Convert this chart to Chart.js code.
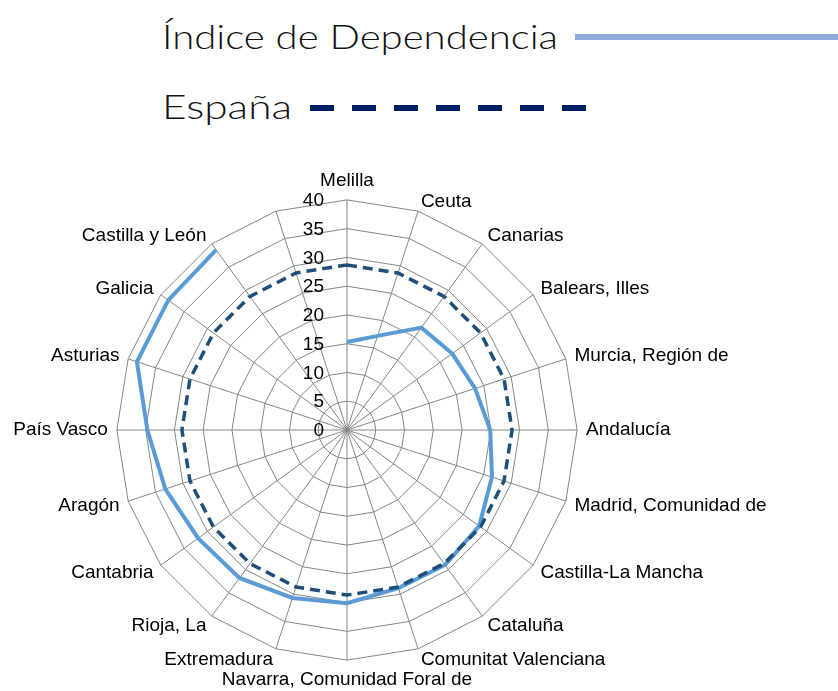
<!DOCTYPE html>
<html>
<head>
<meta charset="utf-8">
<script src="https://cdn.jsdelivr.net/npm/chart.js@4.4.1/dist/chart.umd.min.js"></script>
<style>
  html, body { margin: 0; padding: 0; background: #fff; overflow: hidden; width: 838px; height: 691px; }
  #legend { position: absolute; left: 0; top: 0; }
  #wrap { position: absolute; left: -113px; top: 0; width: 920px; height: 691px; }
</style>
</head>
<body>
<svg id="legend" width="838" height="140">
  <text x="162" y="49" font-family="Lato, 'Open Sans', sans-serif" font-weight="300" font-size="34" fill="#111" textLength="396" lengthAdjust="spacingAndGlyphs">Índice de Dependencia</text>
  <line x1="575" y1="37" x2="838" y2="37" stroke="#8FAADC" stroke-width="6"/>
  <text x="162" y="119" font-family="Lato, 'Open Sans', sans-serif" font-weight="300" font-size="34" fill="#111" textLength="130" lengthAdjust="spacingAndGlyphs">España</text>
  <line x1="310" y1="108" x2="587" y2="108" stroke="#002060" stroke-width="6" stroke-dasharray="24 18"/>
</svg>
<div id="wrap"><canvas id="myChart" width="920" height="691"></canvas></div>
<script>
var regiones = ["Melilla", "Ceuta", "Canarias", "Balears, Illes", "Murcia, Región de", "Andalucía",
    "Madrid, Comunidad de", "Castilla-La Mancha", "Cataluña", "Comunitat Valenciana",
    "Navarra, Comunidad Foral de", "Extremadura", "Rioja, La", "Cantabria", "Aragón",
    "País Vasco", "Asturias", "Galicia", "Castilla y León", ""];
var indiceDependencia = [15.3, 17.2, 22.0, 22.6, 23.4, 24.9, 26.5, 28.4, 29.0, 28.9,
    30.1, 30.7, 31.8, 32.0, 33.2, 34.7, 38.4, 38.4, 38.7, null];
var espana = [28.7, 28.7, 28.7, 28.7, 28.7, 28.7, 28.7, 28.7, 28.7, 28.7,
    28.7, 28.7, 28.7, 28.7, 28.7, 28.7, 28.7, 28.7, 28.7, 28.7];
var ticksValores = [0, 5, 10, 15, 20, 25, 30, 35, 40];

var fuente = "'Liberation Sans', Arial, sans-serif";

// numbers on the vertical axis, right aligned to the left of it
var tickLabels = {
    id: 'tickLabels',
    afterDraw: function (chart) {
        var scale = chart.scales.r;
        var ctx = chart.ctx;
        ctx.save();
        ctx.font = "19px " + fuente;
        ctx.fillStyle = "#000";
        ctx.textAlign = "right";
        ctx.textBaseline = "middle";
        ticksValores.forEach(function (v) {
            var d = scale.getDistanceFromCenterForValue(v);
            ctx.fillText(String(v), scale.xCenter - 23, scale.yCenter - d + 1);
        });
        ctx.restore();
    }
};

// side labels sit centred on their spoke, like excel does
function fuenteEtiqueta(c) {
    var i = c.index;
    var lh = 0.05;
    if (i === 0 || i === 10) lh = 1.1;
    else if (i > 5 && i < 15) lh = 0.2;
    return { family: fuente, size: 19, lineHeight: lh };
}

var ctx = document.getElementById("myChart").getContext('2d');
var myChart = new Chart(ctx, {
    type: 'radar',
    data: {
        labels: regiones,
        datasets: [{
            label: "Índice de Dependencia",
            data: indiceDependencia,
            borderColor: '#5B9BD5',
            backgroundColor: 'transparent',
            borderWidth: 4,
            pointRadius: 0,
            fill: false,
            spanGaps: false,
            order: 1
        }, {
            label: "España",
            data: espana,
            borderColor: '#1F4E79',
            backgroundColor: 'transparent',
            borderWidth: 3.5,
            borderDash: [10, 6],
            pointRadius: 0,
            fill: false,
            order: 0
        }]
    },
    options: {
        responsive: false,
        animation: false,
        devicePixelRatio: 1,
        layout: {
            padding: { top: 170, bottom: 1, left: 0, right: 0 }
        },
        plugins: {
            legend: { display: false },
            tooltip: { enabled: false }
        },
        scales: {
            r: {
                min: 0,
                max: 40,
                ticks: { stepSize: 5, display: false },
                grid: { color: '#858585', lineWidth: 1 },
                angleLines: { color: '#858585', lineWidth: 1 },
                pointLabels: {
                    color: '#000',
                    padding: 9,
                    font: fuenteEtiqueta
                }
            }
        }
    },
    plugins: [tickLabels]
});
</script>
</body>
</html>
